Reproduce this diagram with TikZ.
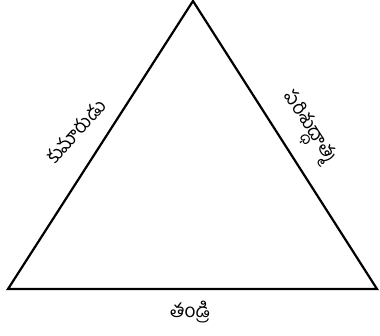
\documentclass[tikz,border=0pt]{standalone}
\usepackage{fontspec}
\newfontfamily\telugufont[Script=Telugu]{Hind Guntur}
\usetikzlibrary{positioning}

\begin{document}
\begin{tikzpicture}[
  x=1pt, y=-1pt,
  side/.style={draw, line width=2.2pt, line join=miter},
  lbl/.style={font=\telugufont\fontsize{19}{22}\selectfont, inner sep=1pt},
]
  \useasboundingbox (0,0) rectangle (380,336);
  \coordinate (top) at (193,1);
  \coordinate (left) at (8,289);
  \coordinate (right) at (377,289);

  \draw[side] (top) -- (left) -- (right) -- cycle;

  \node[lbl, rotate=48] (son) at (76,131) {కుమారుడు};
  \node[lbl, rotate=-57] (spirit) at (307,129) {పరిశుద్ధాత్మ};
  \node[lbl] (father) at (190,312) {తండ్రి};
\end{tikzpicture}
\end{document}
